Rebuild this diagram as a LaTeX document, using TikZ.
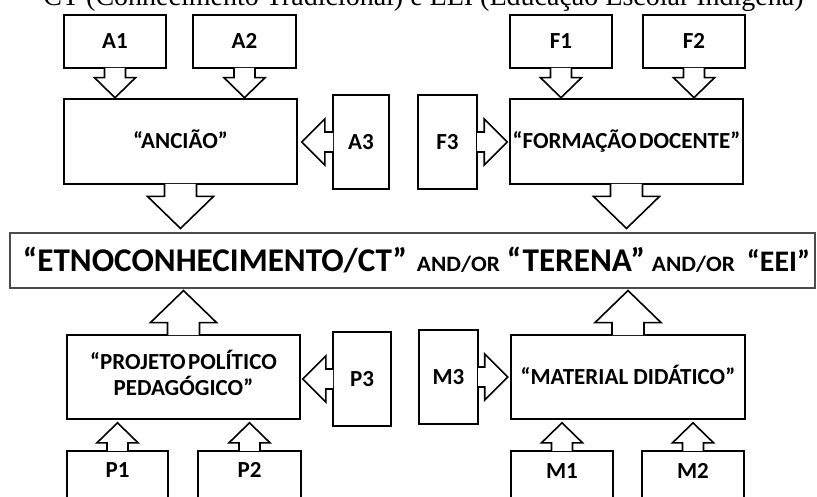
\documentclass[tikz,border=0pt]{standalone}
\usepackage{fontspec}
\usepackage{graphicx}
\setmainfont{Carlito}
\newfontfamily\titlefont{Liberation Serif}
\usetikzlibrary{calc}
\newcommand\labfont{\fontsize{23}{26}\selectfont\bfseries}
\newcommand\bigfont{\fontsize{33}{40}\selectfont\bfseries}
\newcommand\andfont{\fontsize{22}{26}\selectfont\bfseries}
\newcommand\andor{\resizebox{83pt}{\height}{\andfont AND/OR}}
\newcommand\bigtxt[2]{\resizebox{#1}{!}{\bigfont #2}}
\newcommand\nsp{\hspace{2.5pt}}
\tikzset{
  box/.style={draw=black, line width=1.6pt, fill=white, inner sep=0pt, align=center,
    font=\labfont, text height=14.5pt, text depth=0pt},
  mainbox/.style={draw=black!70, line width=1.1pt, fill=white, inner sep=0pt,
    text height=22pt, text depth=0pt},
  arrline/.style={draw=black, line width=1.6pt, line join=miter},
}
% block arrow: #1 start point, #2 target border point, #3 gap, #4 stem half width,
% #5 head half width, #6 head length
\newcommand\blockarr[6]{%
  \coordinate (ba-s) at #1;
  \coordinate (ba-t) at #2;
  \coordinate (ba-e) at ($(ba-t)!#3!(ba-s)$);
  \coordinate (ba-b) at ($(ba-e)!#6!(ba-s)$);
  \coordinate (ba-o) at ($(ba-s)!-0.8pt!(ba-e)$);
  \path[fill=white] ($(ba-o)!#4!90:(ba-e)$) -- ($(ba-b)!#4!90:(ba-e)$) -- ($(ba-b)!#5!90:(ba-e)$) -- (ba-e)
     -- ($(ba-b)!#5!-90:(ba-e)$) -- ($(ba-b)!#4!-90:(ba-e)$) -- ($(ba-o)!#4!-90:(ba-e)$) -- cycle;
  \draw[arrline] ($(ba-o)!#4!90:(ba-e)$) -- ($(ba-b)!#4!90:(ba-e)$) -- ($(ba-b)!#5!90:(ba-e)$) -- (ba-e)
     -- ($(ba-b)!#5!-90:(ba-e)$) -- ($(ba-b)!#4!-90:(ba-e)$) -- ($(ba-o)!#4!-90:(ba-e)$);
}
\newcommand\smallarr[3]{\blockarr{#1}{#2}{#3}{10.5pt}{20.5pt}{20pt}}
\newcommand\bigarr[3]{\blockarr{#1}{#2}{#3}{16pt}{33pt}{32pt}}
\newcommand\sidearr[3]{\blockarr{#1}{#2}{#3}{10pt}{23pt}{23pt}}

\begin{document}
\begin{tikzpicture}[x=1pt, y=-1pt]
\useasboundingbox (0,0) rectangle (817,497);
\clip (0,0) rectangle (817,497);
\fill[white] (0,0) rectangle (817,497);

% title (cut off at top)
\node[anchor=base, inner sep=0pt, font=\titlefont\fontsize{28}{32}\selectfont] (title) at (423.5,5.5)
  {CT (Conhecimento Tradicional) e EEI (Educação Escolar Indígena)};

% top row
\node[box, minimum width=102pt, minimum height=53pt] (A1) at (115,41.5) {A1};
\node[box, minimum width=103pt, minimum height=53pt] (A2) at (244.5,41.5) {A2};
\node[box, minimum width=102pt, minimum height=53pt] (F1) at (561,41.5) {F1};
\node[box, minimum width=102pt, minimum height=53pt] (F2) at (694,41.5) {F2};

\node[box, minimum width=233pt, minimum height=85pt] (ANC) at (180.5,141.5) {“ANCIÃO”};
\node[box, minimum width=56pt, minimum height=94pt] (A3) at (361,142) {A3};
\node[box, minimum width=59pt, minimum height=94pt] (F3) at (447.5,142) {F3};
\node[box, minimum width=233pt, minimum height=85pt] (FD) at (626.5,141.5) {“FORMAÇÃO\nsp DOCENTE”};

% central box
\node[mainbox, minimum width=805pt, minimum height=55pt] (main) at (412.5,260.5)
  {\makebox[805pt][l]{\hspace{13pt}%
    \makebox[394pt][l]{\bigtxt{384pt}{“ETNOCONHECIMENTO/CT”}}%
    \makebox[90pt][l]{\andor}%
    \makebox[145pt][l]{\bigtxt{138pt}{“TERENA”}}%
    \makebox[95pt][l]{\andor}%
    \bigtxt{63pt}{“EEI”}}};

% lower row
\node[box, minimum width=233pt, minimum height=84pt, text height=40.5pt, text depth=3.9pt] (PPP) at (183.5,377)
  {“PROJETO\nsp POLÍTICO\\PEDAGÓGICO”};
\node[box, minimum width=58pt, minimum height=94pt] (P3) at (362,379) {P3};
\node[box, minimum width=59pt, minimum height=94pt] (M3) at (448.5,377) {M3};
\node[box, minimum width=234pt, minimum height=84pt] (MD) at (628,377) {“MATERIAL DIDÁTICO”};

\node[box, anchor=north, minimum width=101pt, text height=27pt, text depth=60pt] (P1) at (117.5,450) {P1};
\node[box, anchor=north, minimum width=103pt, text height=27pt, text depth=60pt] (P2) at (249.5,450) {P2};
\node[box, anchor=north, minimum width=102pt, text height=28pt, text depth=60pt] (M1) at (562,450) {M1};
\node[box, anchor=north, minimum width=102pt, text height=28pt, text depth=60pt] (M2) at (693,450) {M2};

% block arrows
\smallarr{(A1.south)}{(A1.south |- ANC.north)}{0.5pt}
\smallarr{(A2.south)}{(A2.south |- ANC.north)}{0.5pt}
\smallarr{(F1.south)}{(F1.south |- FD.north)}{0.5pt}
\smallarr{(F2.south)}{(F2.south |- FD.north)}{0.5pt}
\sidearr{(A3.west)}{(A3.west -| ANC.east)}{4pt}
\sidearr{(F3.east)}{(F3.east -| FD.west)}{2pt}
\bigarr{(ANC.south)}{(ANC.south |- main.north)}{4pt}
\bigarr{(FD.south)}{(FD.south |- main.north)}{4pt}
\bigarr{(PPP.north)}{(PPP.north |- main.south)}{2pt}
\bigarr{(MD.north)}{(MD.north |- main.south)}{2pt}
\sidearr{(P3.west)}{(P3.west -| PPP.east)}{2pt}
\sidearr{(M3.east)}{(M3.east -| MD.west)}{2.5pt}
\smallarr{(P1.north)}{(P1.north |- PPP.south)}{3pt}
\smallarr{(P2.north)}{(P2.north |- PPP.south)}{3pt}
\smallarr{(M1.north)}{(M1.north |- MD.south)}{3pt}
\smallarr{(M2.north)}{(M2.north |- MD.south)}{3pt}
\end{tikzpicture}
\end{document}
